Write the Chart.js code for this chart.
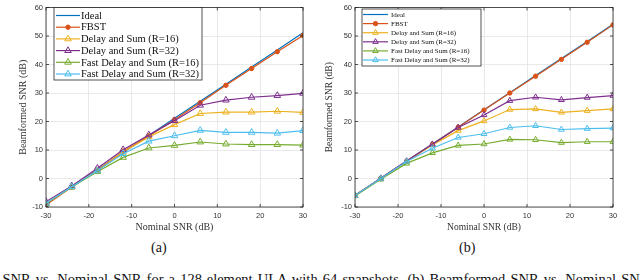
<!DOCTYPE html>
<html>
<head>
<meta charset="utf-8">
<script src="https://cdn.jsdelivr.net/npm/chart.js@4.4.0/dist/chart.umd.min.js"></script>
<style>
  body { margin: 0; background: #fff; width: 640px; height: 280px; overflow: hidden; position: relative; }
  .plot { position: absolute; top: 0; width: 320px; height: 240px; }
  .cap { position: absolute; top: 240px; font: 14px 'Liberation Serif', serif; color: #111; }
  #fig { position: absolute; left: -10px; top: 271.5px; font: 14.5px/15px 'Liberation Serif', serif; color: #111;
         white-space: nowrap; word-spacing: 1.5px; }
</style>
</head>
<body>
<div class="plot" style="left:0"><canvas id="chartA" width="320" height="240"></canvas></div>
<div class="plot" style="left:320px"><canvas id="chartB" width="320" height="240"></canvas></div>
<div class="cap" style="left:151px">(a)</div>
<div class="cap" style="left:459px">(b)</div>
<div id="fig">d SNR vs. Nominal SNR for a 128-element ULA with 64 snapshots. (b) Beamformed SNR vs. Nominal SNR</div>
<script>
// nominal SNR (dB)
const snr = [-30, -24, -18, -12, -6, 0, 6, 12, 18, 24, 30];
const seriesNames = ['Ideal', 'FBST', 'Delay and Sum (R=16)', 'Delay and Sum (R=32)', 'Fast Delay and Sum (R=16)', 'Fast Delay and Sum (R=32)'];
const seriesColors = ['#0072BD', '#D95319', '#EDB120', '#7E2F8E', '#77AC30', '#4DBEEE'];
const yTicks = [-10, 0, 10, 20, 30, 40, 50, 60];
const xTicks = [-30, -20, -10, 0, 10, 20, 30];

// (a)
const idealA  = [-8.9, -2.9, 3.1, 9.1, 15.1, 21.1, 27.1, 33.1, 39.1, 45.1, 51.1];
const fbstA   = [-9.3, -3.0, 2.9, 9.5, 14.9, 20.6, 26.6, 32.7, 38.6, 44.5, 50.2];
const das16A  = [-8.7, -3.0, 2.8, 9.3, 14.6, 18.9, 22.8, 23.3, 23.3, 23.6, 23.2];
const das32A  = [-8.1, -2.6, 3.6, 10.1, 15.3, 20.3, 25.7, 27.5, 28.5, 29.1, 29.9];
const fast16A = [-8.8, -3.0, 2.4, 7.4, 10.7, 11.6, 12.8, 12.1, 11.9, 11.9, 11.7];
const fast32A = [-8.7, -2.9, 2.7, 8.7, 13.1, 15.0, 16.9, 16.2, 16.2, 15.9, 16.8];

// (b)
const idealB  = [-5.9, 0.1, 6.1, 12.1, 18.1, 24.1, 30.1, 36.1, 42.1, 48.1, 54.1];
const fbstB   = [-6.0, 0.1, 6.1, 12.0, 18.0, 24.0, 30.0, 35.9, 41.8, 47.8, 53.9];
const das16B  = [-6.0, 0.0, 5.9, 11.8, 16.8, 20.2, 24.2, 24.4, 23.2, 23.8, 24.4];
const das32B  = [-6.0, 0.1, 6.1, 12.0, 17.9, 22.3, 27.3, 28.5, 27.6, 28.4, 29.1];
const fast16B = [-6.1, -0.3, 5.3, 9.0, 11.6, 12.1, 13.7, 13.6, 12.6, 12.9, 12.9];
const fast32B = [-6.0, 0.0, 6.0, 10.6, 14.4, 15.7, 17.9, 18.5, 17.2, 17.5, 17.7];

const axisColor = '#262626';

// box round the plot area with inward ticks, like matlab
const framePlugin = {
    id: 'frame',
    afterDatasetsDraw(chart) {
        const { ctx, chartArea: a, scales } = chart;
        ctx.save();
        ctx.strokeStyle = axisColor;
        ctx.lineWidth = 0.8;
        ctx.strokeRect(a.left, a.top, a.right - a.left, a.bottom - a.top);
        ctx.beginPath();
        scales.x.ticks.forEach(t => {
            const px = scales.x.getPixelForValue(t.value);
            ctx.moveTo(px, a.bottom); ctx.lineTo(px, a.bottom - 3);
            ctx.moveTo(px, a.top); ctx.lineTo(px, a.top + 3);
        });
        scales.y.ticks.forEach(t => {
            const py = scales.y.getPixelForValue(t.value);
            ctx.moveTo(a.left, py); ctx.lineTo(a.left + 3, py);
            ctx.moveTo(a.right, py); ctx.lineTo(a.right - 3, py);
        });
        ctx.stroke();
        ctx.restore();
    }
};

// legend drawn as a box inside the axes
const boxLegend = {
    id: 'boxLegend',
    afterDraw(chart, args, o) {
        const ctx = chart.ctx;
        ctx.save();
        ctx.fillStyle = '#fff';
        ctx.strokeStyle = axisColor;
        ctx.lineWidth = 0.8;
        ctx.fillRect(o.x, o.y, o.w, o.h);
        ctx.strokeRect(o.x, o.y, o.w, o.h);
        ctx.font = o.font;
        ctx.textBaseline = 'middle';
        chart.data.datasets.forEach((ds, i) => {
            const yy = o.y + o.first + i * o.gap;
            ctx.strokeStyle = ds.borderColor;
            ctx.lineWidth = 1.2;
            ctx.beginPath();
            ctx.moveTo(o.x + o.l0, yy);
            ctx.lineTo(o.x + o.l1, yy);
            ctx.stroke();
            if (ds.pointRadius > 0) {
                ctx.fillStyle = ds.pointBackgroundColor;
                ctx.lineWidth = 1;
                const r = ds.pointStyle === 'circle' ? ds.pointRadius : o.mr;
                Chart.helpers.drawPoint(ctx, { pointStyle: ds.pointStyle, radius: r, rotation: 0, borderWidth: 1 },
                    o.x + (o.l0 + o.l1) / 2, yy);
            }
            ctx.fillStyle = '#111';
            ctx.fillText(ds.label, o.x + o.tx, yy + 0.5);
        });
        ctx.restore();
    }
};

function makeDatasets(lists, triR) {
    return lists.map((vals, i) => ({
        label: seriesNames[i],
        data: snr.map((x, k) => ({ x: x, y: vals[k] })),
        borderColor: seriesColors[i],
        backgroundColor: seriesColors[i],
        borderWidth: 1.2,
        pointStyle: i === 1 ? 'circle' : 'triangle',
        pointRadius: i === 0 ? 0 : (i === 1 ? 2.2 : triR),
        pointBorderWidth: 1,
        pointBackgroundColor: i === 1 ? seriesColors[i] : 'rgba(0,0,0,0)',
        pointBorderColor: seriesColors[i],
        order: -i,
        tension: 0
    }));
}

function makeChart(id, lists, cfg) {
    return new Chart(document.getElementById(id), {
        type: 'line',
        data: { datasets: makeDatasets(lists, cfg.triR) },
        plugins: [framePlugin, boxLegend],
        options: {
            responsive: false,
            animation: false,
            layout: { padding: { left: 0, right: cfg.padRight, top: 4, bottom: 0 } },
            plugins: {
                legend: { display: false },
                tooltip: { enabled: false },
                boxLegend: cfg.legend
            },
            scales: {
                x: {
                    type: 'linear',
                    min: -30, max: 30,
                    afterBuildTicks: s => { s.ticks = xTicks.map(v => ({ value: v })); },
                    afterFit: s => { s.height = 33; },
                    grid: { color: '#e3e3e3', lineWidth: 0.8, drawTicks: false },
                    border: { display: false },
                    ticks: { color: '#333', padding: 4, font: { family: 'Liberation Sans', size: 7.5 } },
                    title: { display: true, text: 'Nominal SNR (dB)', color: '#333', padding: { bottom: 7 },
                             font: { family: 'Liberation Serif', size: cfg.titleSize } }
                },
                y: {
                    min: -10, max: 60,
                    afterBuildTicks: s => { s.ticks = yTicks.map(v => ({ value: v })); },
                    afterFit: s => { s.width = cfg.yWidth; },
                    grid: { color: '#e3e3e3', lineWidth: 0.8, drawTicks: false },
                    border: { display: false },
                    ticks: { color: '#333', padding: 3, font: { family: 'Liberation Sans', size: 7.5 } },
                    title: { display: true, text: 'Beamformed SNR (dB)', color: '#333', padding: { top: cfg.yTitlePad },
                             font: { family: 'Liberation Serif', size: cfg.titleSize } }
                }
            }
        }
    });
}

makeChart('chartA', [idealA, fbstA, das16A, das32A, fast16A, fast32A], {
    triR: 3.8, padRight: 17, yWidth: 46, yTitlePad: 17, titleSize: 10,
    legend: { x: 54, y: 7.5, w: 148, h: 72.5, first: 8, gap: 11.7, l0: 2, l1: 26, tx: 27, mr: 3.8,
              font: '10.5px "Liberation Serif"' }
});

makeChart('chartB', [idealB, fbstB, das16B, das32B, fast16B, fast32B], {
    triR: 3.4, padRight: 27, yWidth: 35, yTitlePad: 4, titleSize: 9.5,
    legend: { x: 42, y: 9, w: 119, h: 57, first: 5.5, gap: 9.1, l0: 1, l1: 26, tx: 29, mr: 3.2,
              font: '7px "Liberation Serif"' }
});
</script>
</body>
</html>
